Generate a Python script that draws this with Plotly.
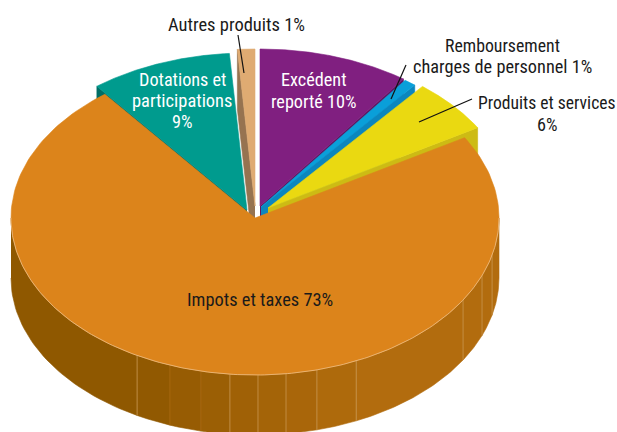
import numpy as np
import plotly.graph_objects as go

# ---- data (printed labels are rounded) ----
categories = ["Excédent reporté", "Remboursement charges de personnel", "Produits et services",
              "Impots et taxes", "Dotations et participations", "Autres produits"]
values = [10.0, 0.85, 5.6, 73.0, 9.4, 1.15]
label_texts = ["Autres produits 1%", "Remboursement", "charges de personnel 1%", "Produits et services", "6%",
               "Excédent", "reporté 10%", "Dotations et", "participations", "9%", "Impots et taxes 73%"]

# ---- styles and placement ----
top_colors = ["#801F80", "#0A9FD9", "#EAD911", "#DC841B", "#009B8E", "#DFAB72"]
wall_colors = ["#5E1763", "#0B86BE", "#CDBB14", "#B26C0E", "#006E66", "#967350"]
apex_x = [260, 261, 268, 255, 247, 255]
apex_y = [206, 207, 208, 218, 210, 206]
RX, RY, DEPTH = 244, 157, 60
draw_order = [5, 4, 0, 1, 2, 3]
wall_edge = {5: "start", 4: "start", 0: "end", 1: "end", 2: "end"}
seam_angles = [270, 208.9, 200.4, 192.8, 185.9, 179.3, 172.7, 165.3, 155.5, 121.5, 111.5, 103.7, 90]
faint_seams = [200.4, 192.8]
label_x = [236, 502, 502, 547, 547, 314, 314, 182, 182, 182, 260]
label_y = [25, 45, 66, 103, 124, 79, 101, 79, 100, 121, 299]
label_size = [18.5, 17.8, 18.3, 17.6, 18.2, 18.2, 18.2, 18.2, 18.4, 18.2, 18.4]
label_color = ["#1a1a1a"] * 5 + ["#FFFFFF"] * 5 + ["#1a1a1a"]
leaders = [(238, 35, 244, 73), (406, 65, 391, 99), (472, 99, 419, 122)]
FONT = "Roboto Condensed"

# ---- slice angles, clockwise from the top ----
ends = np.cumsum(values) / np.sum(values) * 360.0
starts = np.concatenate([[0.0], ends[:-1]])


def rim(ax, ay, t0, t1, n=90):
    t = np.radians(np.linspace(t0, t1, n))
    return ax + RX * np.sin(t), ay - RY * np.cos(t)


fig = go.Figure()


def poly(xs, ys, color):
    fig.add_trace(go.Scatter(
        x=list(xs), y=list(ys), mode="lines", fill="toself", fillcolor=color,
        line=dict(color=color, width=0.6),
        hoverinfo="skip", showlegend=False))


for i in draw_order:
    ax, ay = apex_x[i], apex_y[i]
    if i in wall_edge:
        a = starts[i] if wall_edge[i] == "start" else ends[i]
        ex, ey = rim(ax, ay, a, a, 1)
        poly([ax, ex[0], ex[0], ax], [ay, ey[0], ey[0] + DEPTH, ay + DEPTH], wall_colors[i])
    if i == 3:
        # outer wall of the big slice, in facets getting darker to the left
        dark, light = np.array([0x8F, 0x58, 0x00]), np.array([0xB2, 0x6C, 0x0E])
        for a0, a1 in zip(seam_angles[:-1], seam_angles[1:]):
            f = np.clip((208.9 - (a0 + a1) / 2) / (208.9 - 155.5), 0, 1)
            c = dark + (light - dark) * f
            col = "rgb(%d,%d,%d)" % tuple(c)
            x0, y0 = rim(ax, ay, a0, a1, 40)
            poly(np.r_[x0, x0[::-1]], np.r_[y0, y0[::-1] + DEPTH], col)
        for a in seam_angles[1:-1]:
            x0, y0 = rim(ax, ay, a, a, 1)
            faint = a in faint_seams
            fig.add_trace(go.Scatter(
                x=[x0[0], x0[0]], y=[y0[0], y0[0] + DEPTH], mode="lines",
                line=dict(color="#A8680F" if faint else "#C8954F", width=0.8),
                hoverinfo="skip", showlegend=False))
    x, y = rim(ax, ay, starts[i], ends[i], 200)
    poly(np.r_[ax, x, ax], np.r_[ay, y, ay], top_colors[i])
    if i == 3:
        x1, y1 = rim(ax, ay, 90, 270, 200)
        fig.add_trace(go.Scatter(x=x1, y=y1, mode="lines",
                                 line=dict(color="#EDBE85", width=0.8),
                                 hoverinfo="skip", showlegend=False))

for x0, y0, x1, y1 in leaders:
    fig.add_trace(go.Scatter(x=[x0, x1], y=[y0, y1], mode="lines",
                             line=dict(color="#111111", width=1.2),
                             hoverinfo="skip", showlegend=False))

for text, x, y, size, col in zip(label_texts, label_x, label_y, label_size, label_color):
    fig.add_annotation(x=x, y=y, text=text, showarrow=False, xanchor="center", yanchor="middle",
                       font=dict(family=FONT, size=size, color=col))

fig.update_layout(
    width=617, height=432, margin=dict(l=0, r=0, t=0, b=0),
    paper_bgcolor="white", plot_bgcolor="white", showlegend=False,
    xaxis=dict(range=[0, 617], visible=False, fixedrange=True),
    yaxis=dict(range=[432, 0], visible=False, fixedrange=True),
)
fig.write_html("out.html", config={"displayModeBar": False},
               post_script="document.body.style.margin='0';")
